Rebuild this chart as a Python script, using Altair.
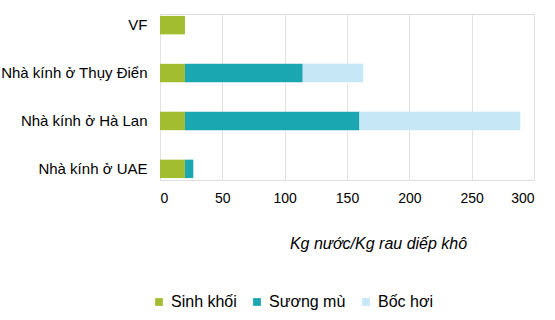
import altair as alt
import pandas as pd

categories = ["VF", "Nhà kính ở Thụy Điển", "Nhà kính ở Hà Lan", "Nhà kính ở UAE"]
series = ["Sinh khối", "Sương mù", "Bốc hơi"]
sinh_khoi = [20, 20, 20, 20]
suong_mu = [0, 94.5, 140, 6.7]
boc_hoi = [0, 48.5, 129, 0]
colors = ["#a3bd31", "#1aa7b2", "#c6e8f6"]
x_ticks = [0, 50, 100, 150, 200, 250, 300]

rows = []
for ci, cat in enumerate(categories):
    for si, (name, vals) in enumerate(zip(series, [sinh_khoi, suong_mu, boc_hoi])):
        if vals[ci] > 0:
            rows.append({"cat": cat, "series": name, "value": vals[ci], "ord": si})
df = pd.DataFrame(rows)

FONT = "Liberation Sans"
TXT = "#000000"

chart = alt.Chart(df).mark_bar().encode(
    y=alt.Y("cat:N", sort=categories,
            scale=alt.Scale(paddingInner=0.615, paddingOuter=0.04),
            axis=alt.Axis(title=None, domain=False, ticks=False, grid=False,
                          labelFont=FONT, labelFontSize=15, labelColor=TXT,
                          labelPadding=13, labelLimit=300)),
    x=alt.X("value:Q", stack="zero",
            scale=alt.Scale(domain=[0, 300], nice=False),
            axis=alt.Axis(values=x_ticks, title="Kg nước/Kg rau diếp khô",
                          domain=False, ticks=False, grid=True,
                          gridColor="#e2e2e2", gridWidth=1,
                          labelFont=FONT, labelFontSize=14, labelColor=TXT,
                          labelPadding=11,
                          titleFont=FONT, titleFontSize=16, titleFontStyle="italic",
                          titleFontWeight="normal", titleColor=TXT,
                          titleX=218, titleY=63, titleAlign="center",
                          titleBaseline="middle")),
    color=alt.Color("series:N", sort=series,
                    scale=alt.Scale(domain=series, range=colors),
                    legend=alt.Legend(title=None, orient="none", direction="horizontal",
                                      legendX=-9, legendY=280, padding=0,
                                      symbolType="square", symbolSize=60,
                                      symbolStrokeWidth=0,
                                      labelFont=FONT, labelFontSize=16, labelColor=TXT,
                                      labelOffset=4, columnPadding=12)),
    order=alt.Order("ord:Q"),
).properties(
    width=374, height=166,
    autosize=alt.AutoSizeParams(type="none"),
    padding={"left": 160, "top": 14, "right": 21, "bottom": 140},
).configure_view(stroke=None).configure(background="white")

chart.save("out.html", embed_options={"renderer": "svg", "actions": False})
